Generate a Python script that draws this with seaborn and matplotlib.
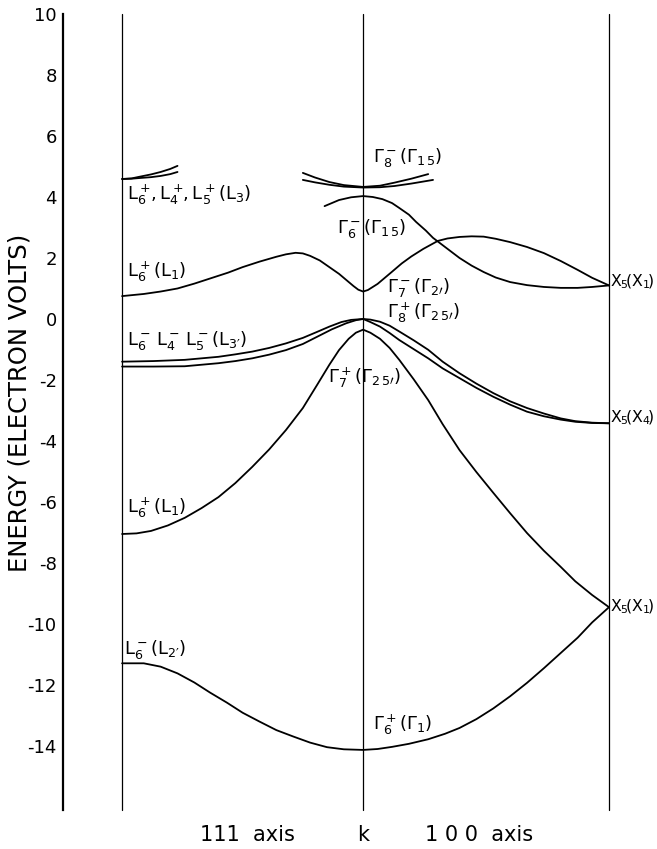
import numpy as np
import pandas as pd
import matplotlib
matplotlib.use("Agg")
import matplotlib.pyplot as plt
import seaborn as sns

# ---- symmetry points on the k axis (L-Gamma distance = 1) ----
K_L, K_G, K_X = -1.0, 0.0, 1.02

# ---- bands: k positions and energies (eV) ----
# lowest band  L6-(L2') -> G6+(G1) -> X5(X1)
k_g1 = [-1, -0.91, -0.84, -0.77, -0.70, -0.635, -0.565, -0.50, -0.43, -0.36, -0.29,
        -0.22, -0.15, -0.08, 0,
        0.06, 0.12, 0.19, 0.27, 0.34, 0.40, 0.47, 0.54, 0.61, 0.68, 0.75, 0.82,
        0.89, 0.95, 1.02]
e_g1 = [-11.29, -11.29, -11.4, -11.62, -11.92, -12.25, -12.58, -12.91, -13.2, -13.48,
        -13.69, -13.89, -14.04, -14.11, -14.13,
        -14.1, -14.03, -13.93, -13.78, -13.6, -13.41, -13.12, -12.77, -12.37, -11.93,
        -11.45, -10.95, -10.45, -9.95, -9.45]

# L6+(L1) -> G7+(G25') -> X5(X1)
k_l1 = [-1, -0.94, -0.88, -0.81, -0.74, -0.67, -0.60, -0.53, -0.46, -0.39, -0.32,
        -0.25, -0.19, -0.14, -0.10, -0.06, -0.03, 0,
        0.03, 0.07, 0.11, 0.15, 0.21, 0.27, 0.33, 0.40, 0.47, 0.54, 0.61, 0.68,
        0.75, 0.82, 0.88, 0.95, 1.02]
e_l1 = [-7.05, -7.03, -6.95, -6.77, -6.52, -6.2, -5.84, -5.38, -4.85, -4.28, -3.64,
        -2.92, -2.15, -1.5, -1.02, -0.65, -0.45, -0.35,
        -0.45, -0.65, -0.95, -1.34, -1.98, -2.66, -3.45, -4.3, -5.02, -5.7, -6.37,
        -7.02, -7.6, -8.13, -8.6, -9.05, -9.45]

# L3' upper -> G8+ -> X4
k_v1 = [-1, -0.87, -0.74, -0.60, -0.53, -0.46, -0.39, -0.32, -0.25, -0.19, -0.14,
        -0.09, -0.05, 0,
        0.03, 0.07, 0.11, 0.15, 0.21, 0.27, 0.33, 0.40, 0.47, 0.54, 0.61, 0.68,
        0.75, 0.82, 0.88, 0.95, 1.02]
e_v1 = [-1.4, -1.38, -1.34, -1.24, -1.16, -1.07, -0.95, -0.8, -0.62, -0.42, -0.25,
        -0.1, -0.03, 0.0,
        -0.02, -0.09, -0.22, -0.41, -0.7, -1.01, -1.4, -1.78, -2.12, -2.43, -2.7,
        -2.92, -3.1, -3.26, -3.35, -3.4, -3.42]

# L3' lower -> G8+ -> X4
k_v2 = [-1, -0.87, -0.74, -0.60, -0.53, -0.46, -0.39, -0.32, -0.25, -0.19, -0.13,
        -0.07, -0.03, 0,
        0.03, 0.07, 0.11, 0.15, 0.21, 0.27, 0.33, 0.40, 0.47, 0.54, 0.61, 0.68,
        0.75, 0.82, 0.88, 0.95, 1.02]
e_v2 = [-1.56, -1.56, -1.55, -1.45, -1.38, -1.29, -1.17, -1.02, -0.82, -0.58, -0.34,
        -0.14, -0.04, 0.0,
        -0.1, -0.25, -0.46, -0.69, -0.99, -1.29, -1.62, -1.94, -2.26, -2.55, -2.81,
        -3.04, -3.19, -3.3, -3.37, -3.41, -3.42]

# L6+(L1) -> G7-(G2') -> X5(X1)
k_c1 = [-1, -0.91, -0.84, -0.77, -0.70, -0.63, -0.56, -0.50, -0.43, -0.36, -0.32,
        -0.28, -0.25, -0.22, -0.18, -0.14, -0.10, -0.07, -0.04, -0.02, 0,
        0.02, 0.04, 0.06, 0.09, 0.12, 0.16, 0.20, 0.25, 0.31, 0.35, 0.40, 0.45,
        0.50, 0.55, 0.61, 0.68, 0.75, 0.82, 0.89, 0.95, 1.02]
e_c1 = [0.75, 0.82, 0.9, 1.0, 1.16, 1.34, 1.52, 1.7, 1.88, 2.04, 2.12,
        2.17, 2.15, 2.07, 1.92, 1.7, 1.48, 1.28, 1.08, 0.96, 0.9,
        0.95, 1.05, 1.15, 1.35, 1.55, 1.82, 2.05, 2.3, 2.56, 2.64, 2.69, 2.71,
        2.7, 2.63, 2.52, 2.36, 2.16, 1.9, 1.61, 1.35, 1.1]

# G6-(G15) -> X5(X1)
k_c2 = [-0.16, -0.13, -0.10, -0.05, 0, 0.04, 0.08, 0.12, 0.15, 0.19, 0.22, 0.26,
        0.29, 0.35, 0.40, 0.45, 0.50, 0.55, 0.61, 0.68, 0.75, 0.82, 0.89, 0.95, 1.02]
e_c2 = [3.7, 3.8, 3.9, 3.99, 4.03, 4.0, 3.93, 3.8, 3.64, 3.42, 3.18, 2.9,
        2.66, 2.3, 2.0, 1.75, 1.54, 1.36, 1.21, 1.11, 1.05, 1.02, 1.02, 1.05, 1.1]

# G8-(G15) pair
k_c3 = [-0.25, -0.20, -0.14, -0.08, 0, 0.07, 0.13, 0.20, 0.27]
e_c3 = [4.79, 4.64, 4.49, 4.39, 4.33, 4.37, 4.47, 4.6, 4.75]
k_c4 = [-0.25, -0.20, -0.14, -0.08, 0, 0.07, 0.13, 0.20, 0.29]
e_c4 = [4.56, 4.48, 4.4, 4.34, 4.31, 4.32, 4.36, 4.44, 4.56]

# L3 pair
k_c5 = [-1, -0.96, -0.93, -0.88, -0.84, -0.80, -0.77]
e_c5 = [4.59, 4.61, 4.66, 4.74, 4.82, 4.92, 5.02]
k_c6 = [-1, -0.96, -0.93, -0.88, -0.84, -0.80, -0.77]
e_c6 = [4.59, 4.6, 4.62, 4.65, 4.69, 4.75, 4.82]

bands = [(k_g1, e_g1), (k_l1, e_l1), (k_v1, e_v1), (k_v2, e_v2), (k_c1, e_c1),
         (k_c2, e_c2), (k_c3, e_c3), (k_c4, e_c4), (k_c5, e_c5), (k_c6, e_c6)]

# ---- level labels ----
label_text = [
    r"$\mathregular{L_6^+\!,L_4^+\!,L_5^+(L_3)}$",
    r"$\mathregular{L_6^+(L_1)}$",
    r"$\mathregular{L_6^-\,L_4^-\,L_5^-(L_{3\prime})}$",
    r"$\mathregular{L_6^+(L_1)}$",
    r"$\mathregular{L_6^-(L_{2\prime})}$",
    r"$\Gamma_8^-(\Gamma_{1\,5})$",
    r"$\Gamma_6^-(\Gamma_{1\,5})$",
    r"$\Gamma_7^-(\Gamma_{2\prime})$",
    r"$\Gamma_8^+(\Gamma_{2\,5\prime})$",
    r"$\Gamma_7^+(\Gamma_{2\,5\prime})$",
    r"$\Gamma_6^+(\Gamma_1)$",
    r"$\mathregular{X_5\!(X_1\!)}$",
    r"$\mathregular{X_5\!(X_4\!)}$",
    r"$\mathregular{X_5\!(X_1\!)}$",
]
label_k = [-0.98, -0.98, -0.98, -0.98, -0.99, 0.04, -0.11, 0.10, 0.10, -0.145, 0.04,
           1.024, 1.024, 1.024]
label_e = [4.07, 1.54, -0.69, -6.2, -10.85, 5.28, 2.98, 1.02, 0.2, -1.93, -13.3,
           1.21, -3.25, -9.44]

y_ticks = [10, 8, 6, 4, 2, 0, -2, -4, -6, -8, -10, -12, -14]
axis_texts = ["111  axis", "k", "1 0 0  axis"]
axis_text_k = [-0.48, 0.0, 0.48]

# ---- build long table ----
rows = []
for i, (ks, es) in enumerate(bands):
    for order, (kk, ee) in enumerate(zip(ks, es)):
        rows.append({"band": i, "order": order, "k": kk, "E": ee})
df = pd.DataFrame(rows)

sns.set_style("white")
plt.rcParams["font.family"] = ["DejaVu Sans"]
plt.rcParams["mathtext.fontset"] = "dejavusans"
plt.rcParams["axes.unicode_minus"] = False
plt.rcParams["text.color"] = "black"

fig = plt.figure(figsize=(6.57, 8.49), dpi=100)
ax = fig.add_axes([63 / 657, 39 / 849, (609 - 63) / 657, (810 - 14) / 849])

sns.lineplot(data=df, x="k", y="E", units="band", estimator=None, sort=False,
             color="black", lw=1.3, ax=ax, legend=False)
for line in ax.get_lines():
    line.set_solid_joinstyle("round")

for kv in (K_L, K_G, K_X):
    ax.axvline(kv, color="black", lw=0.9, zorder=1, clip_on=False)

ax.set_xlim(-1.245, K_X)
ax.set_ylim(-16.1, 10)

for s in ("top", "right", "bottom"):
    ax.spines[s].set_visible(False)
ax.spines["left"].set_linewidth(1.6)
ax.spines["left"].set_color("black")

ax.set_yticks(y_ticks)
ax.set_yticklabels([str(t) for t in y_ticks], fontsize=13)
ax.tick_params(axis="y", direction="inout", length=7, width=1.2, pad=1,
               colors="black", labelcolor="black")
ax.set_xticks([])
ax.set_xlabel("")
ax.set_ylabel("ENERGY (ELECTRON VOLTS)", fontsize=17.5, color="black")
ax.yaxis.set_label_coords(-0.057, 0.511)

for txt, kk, ee in zip(label_text, label_k, label_e):
    fs = 11.3 if "X_5" in txt else 13
    ax.text(kk, ee, txt, fontsize=fs, ha="left", va="center", clip_on=False,
            color="black")

tr = ax.get_xaxis_transform()
for txt, kk in zip(axis_texts, axis_text_k):
    ax.text(kk, -0.031, txt, fontsize=15, ha="center", va="center", transform=tr,
            color="black")

fig.savefig("out.png", dpi=100)
